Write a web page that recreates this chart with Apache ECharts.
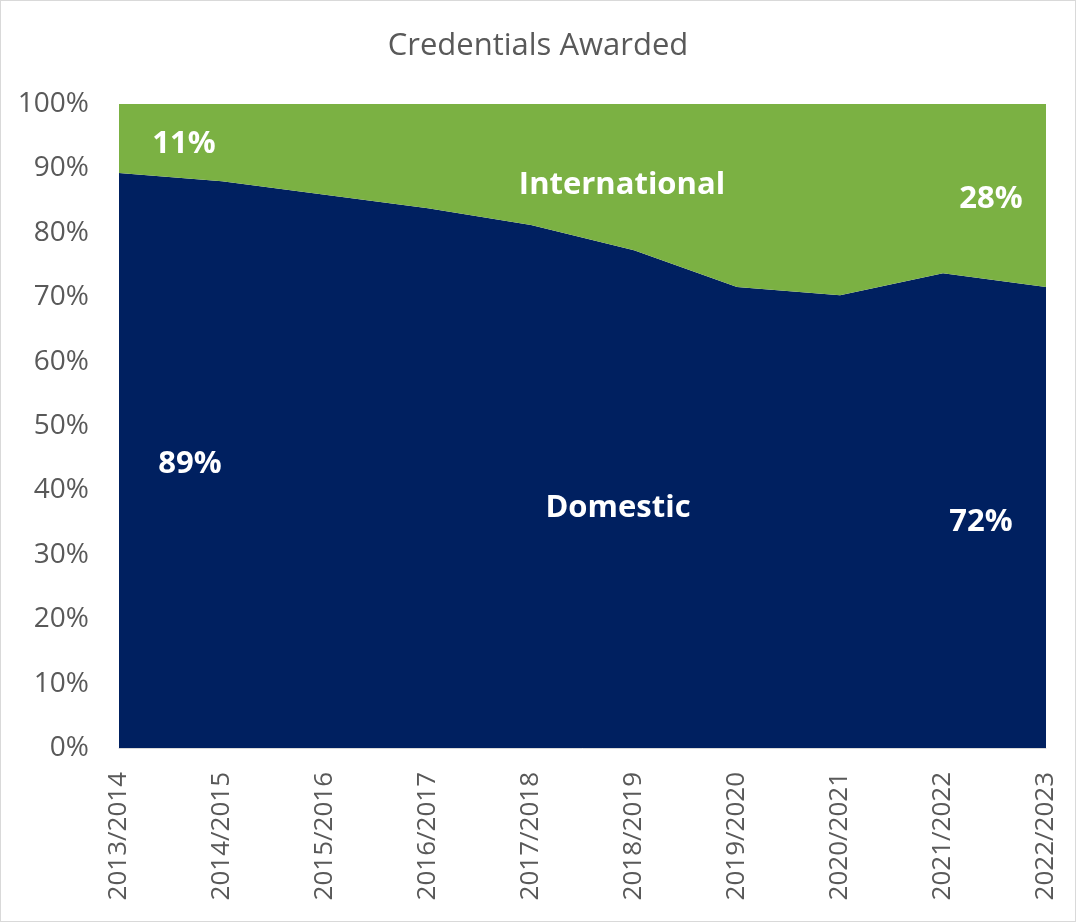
<!DOCTYPE html>
<html>
<head>
<meta charset="utf-8">
<script src="https://cdn.jsdelivr.net/npm/echarts@6/dist/echarts.min.js"></script>
<style>
  html, body { margin: 0; padding: 0; background: #fff; }
  #chart { width: 1074px; height: 920px; border: 1px solid #d9d9d9; }
</style>
</head>
<body>
<div id="chart"></div>
<script>
// Academic years on the x axis
const years = ['2013/2014', '2014/2015', '2015/2016', '2016/2017', '2017/2018',
               '2018/2019', '2019/2020', '2020/2021', '2021/2022', '2022/2023'];
// Share of credentials awarded (%)
const domestic = [89.3, 88.0, 85.9, 83.8, 81.2, 77.3, 71.6, 70.3, 73.7, 71.6];
const international = [10.7, 12.0, 14.1, 16.2, 18.8, 22.7, 28.4, 29.7, 26.3, 28.4];
const yTicks = [0, 10, 20, 30, 40, 50, 60, 70, 80, 90, 100];

const NAVY = '#002060';
const GREEN = '#7bb143';
const FONT = '"Open Sans", "Noto Sans", sans-serif';

const pct = v => Math.round(v) + '%';
const last = domestic.length - 1;

const chart = echarts.init(document.getElementById('chart'));

const labelStyle = (text, x, y) => ({
  type: 'text',
  x: x, y: y,
  style: {
    text: text, fill: '#fff', font: 'bold 31px ' + FONT,
    align: 'center', verticalAlign: 'middle'
  },
  z: 100
});

chart.setOption({
  animation: false,
  title: {
    text: 'Credentials Awarded',
    left: 'center', top: 25,
    textStyle: { color: '#595959', fontSize: 31, fontWeight: 'normal', fontFamily: FONT }
  },
  grid: { left: 118, right: 29, top: 103, bottom: 173, containLabel: false },
  xAxis: {
    type: 'category',
    data: years,
    boundaryGap: false,
    axisLine: { show: true, lineStyle: { color: '#d9d9d9', width: 1 } },
    axisTick: { show: false },
    axisLabel: { rotate: 90, color: '#595959', fontSize: 26, fontFamily: FONT, margin: 24, interval: 0 },
    splitLine: { show: false }
  },
  yAxis: {
    type: 'value',
    min: yTicks[0], max: yTicks[yTicks.length - 1], interval: 10,
    axisLine: { show: false },
    axisTick: { show: false },
    splitLine: { show: false },
    axisLabel: { color: '#595959', fontSize: 28, fontFamily: FONT, margin: 30, formatter: v => v + '%' }
  },
  series: [
    {
      name: 'Domestic', type: 'line', stack: 'share', data: domestic,
      symbol: 'none', lineStyle: { width: 0 },
      areaStyle: { color: NAVY, opacity: 1 }
    },
    {
      name: 'International', type: 'line', stack: 'share', data: international,
      symbol: 'none', lineStyle: { width: 0 },
      areaStyle: { color: GREEN, opacity: 1 }
    }
  ],
  graphic: [
    labelStyle(pct(international[0]), 183, 143),
    labelStyle(pct(domestic[0]), 189, 463),
    labelStyle('International', 621, 184),
    labelStyle('Domestic', 617, 507),
    labelStyle(pct(international[last]), 990, 198),
    labelStyle(pct(domestic[last]), 980, 521)
  ]
});
</script>
</body>
</html>
